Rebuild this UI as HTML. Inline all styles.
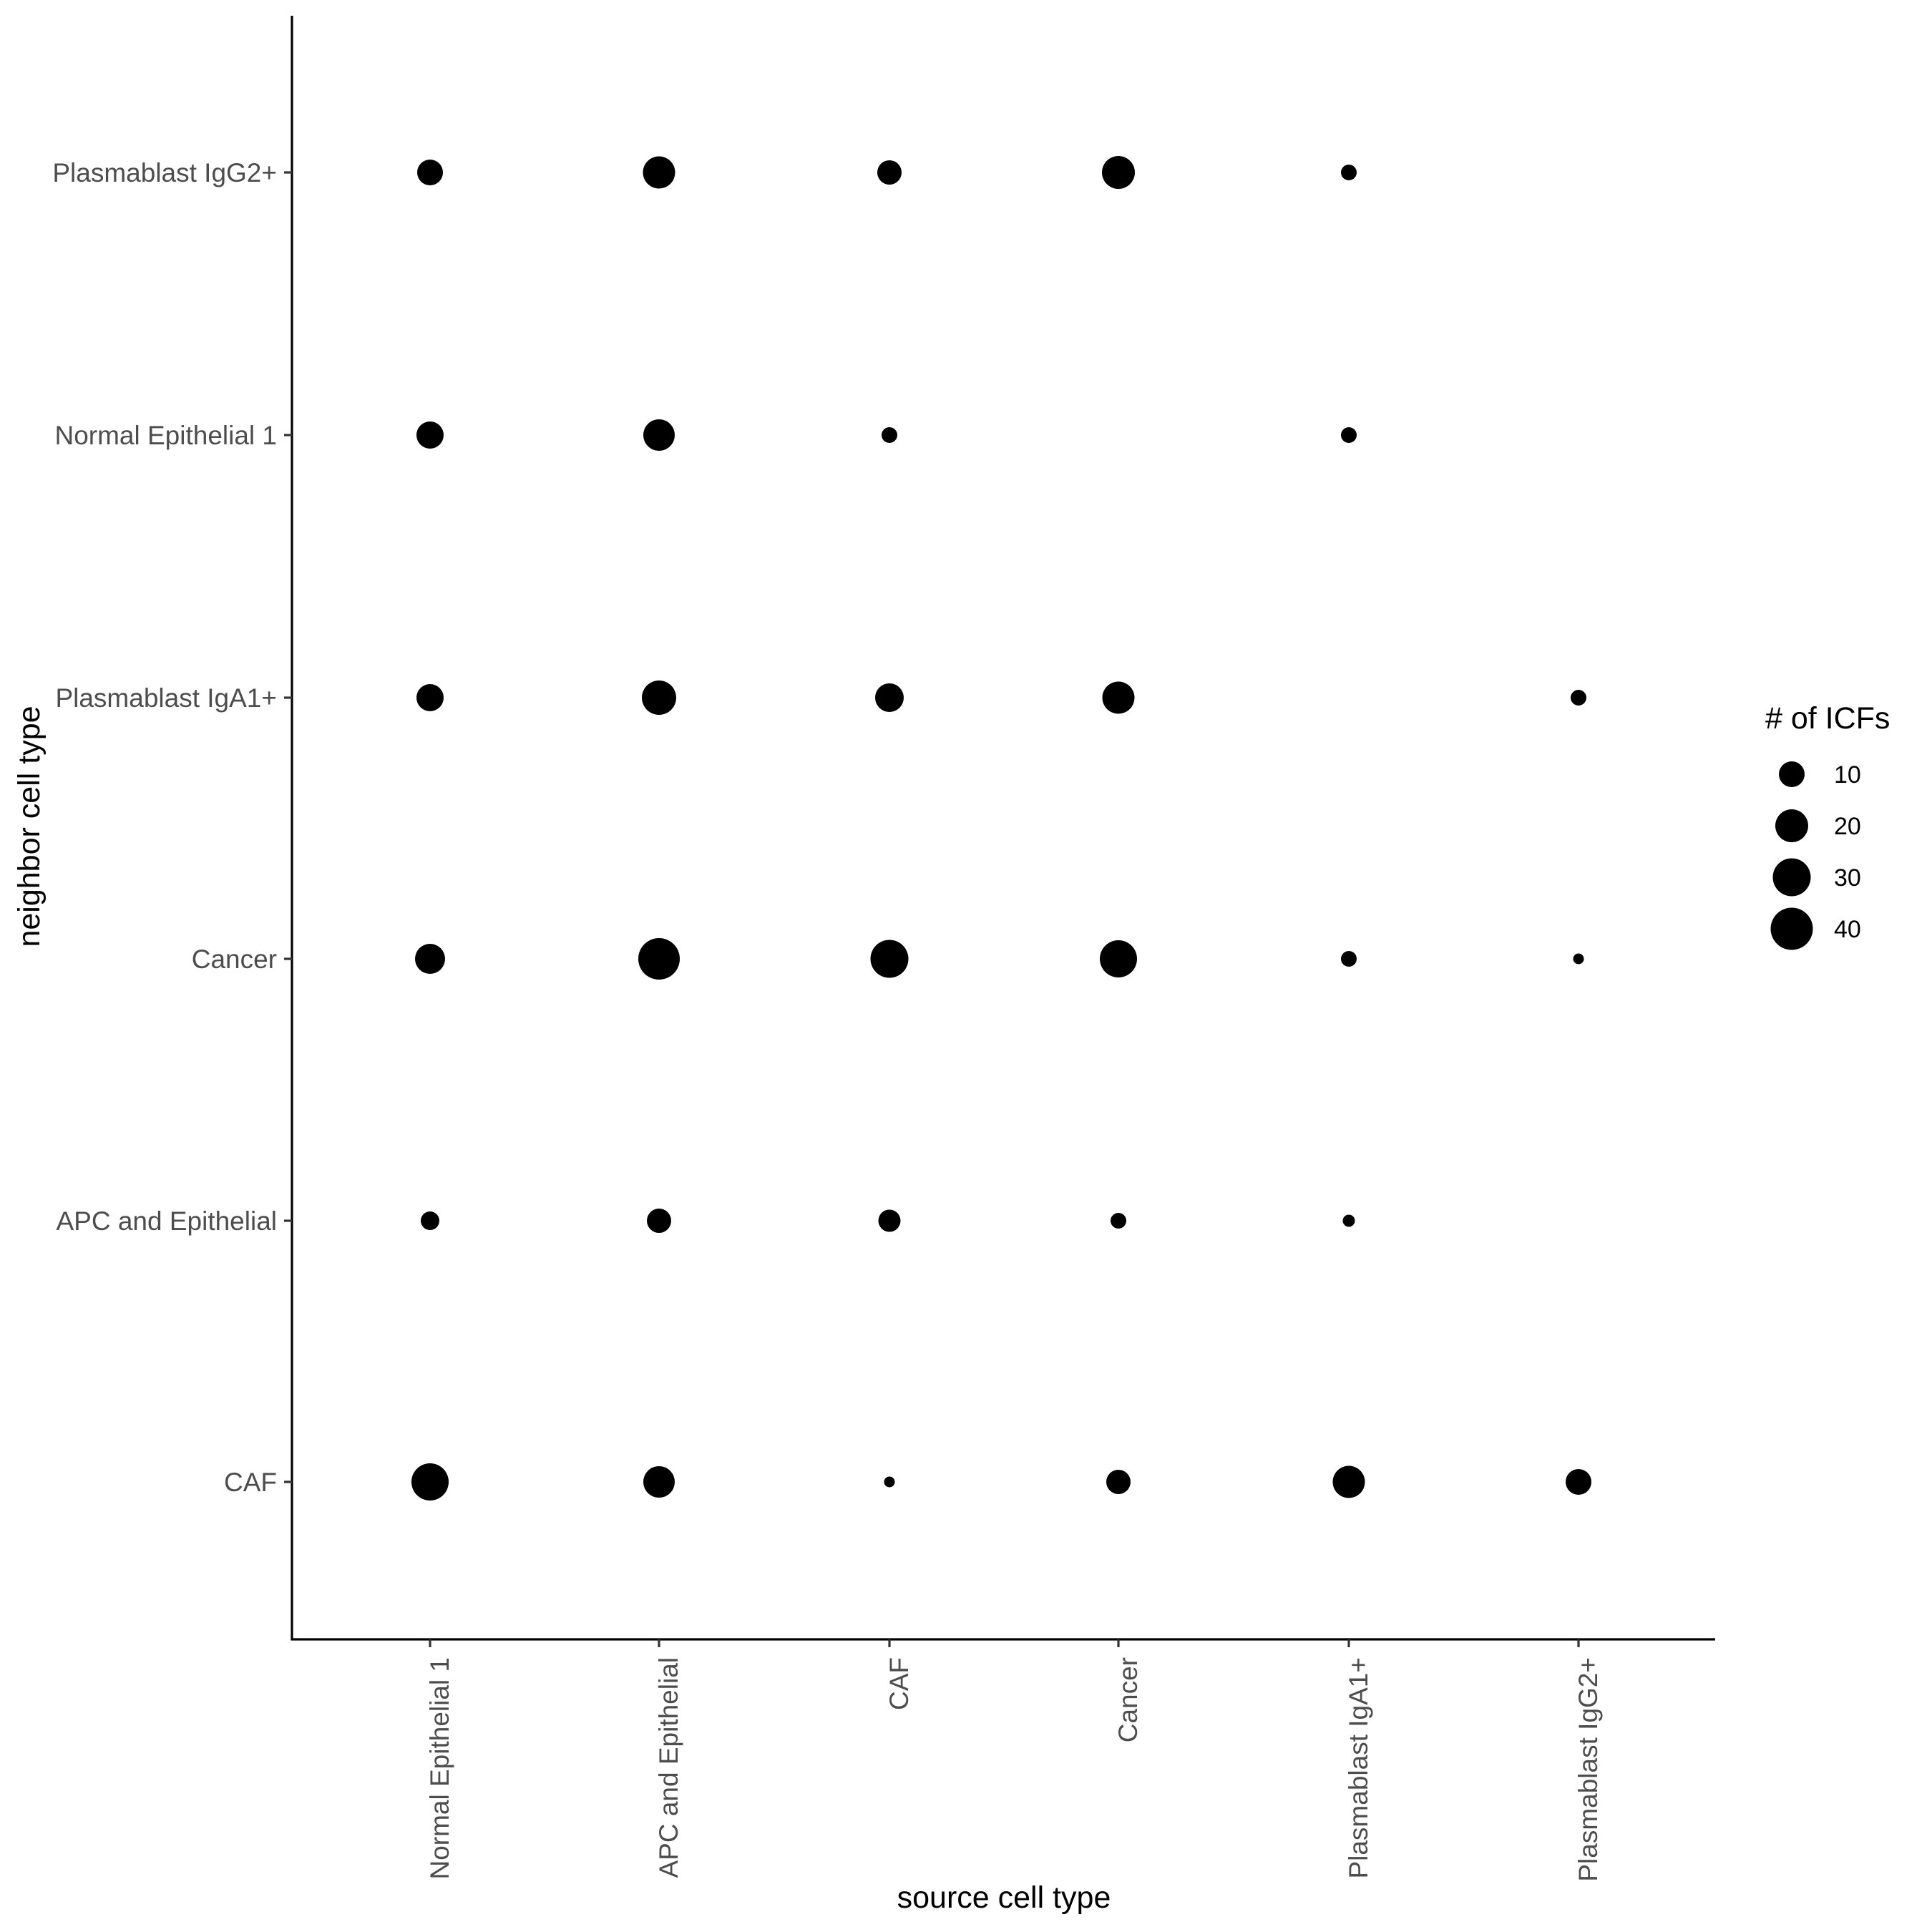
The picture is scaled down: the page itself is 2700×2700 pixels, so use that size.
<!DOCTYPE html>
<html><head><style>html,body{margin:0;padding:0;background:#fff}svg{display:block}</style></head>
<body>
<svg width="2700" height="2700" viewBox="0 0 2700 2700" xmlns="http://www.w3.org/2000/svg" font-family="Liberation Sans, Arial, sans-serif">
<rect width="2700" height="2700" fill="#fff"/>
<line x1="408" y1="22" x2="408" y2="2292" stroke="#000" stroke-width="3.2"/>
<line x1="406.5" y1="2291" x2="2397" y2="2291" stroke="#000" stroke-width="3.2"/>
<g stroke="#333" stroke-width="3.2">
<line x1="397" y1="241" x2="408" y2="241"/><line x1="397" y1="608" x2="408" y2="608"/>
<line x1="397" y1="975" x2="408" y2="975"/><line x1="397" y1="1340" x2="408" y2="1340"/>
<line x1="397" y1="1706" x2="408" y2="1706"/><line x1="397" y1="2071" x2="408" y2="2071"/>
<line x1="601" y1="2291" x2="601" y2="2302"/><line x1="921" y1="2291" x2="921" y2="2302"/>
<line x1="1243" y1="2291" x2="1243" y2="2302"/><line x1="1563" y1="2291" x2="1563" y2="2302"/>
<line x1="1885" y1="2291" x2="1885" y2="2302"/><line x1="2206" y1="2291" x2="2206" y2="2302"/>
</g>
<g fill="#4d4d4d" font-size="37" text-anchor="end">
<text x="387" y="254">Plasmablast IgG2+</text>
<text x="387" y="621">Normal Epithelial 1</text>
<text x="387" y="988">Plasmablast IgA1+</text>
<text x="387" y="1353">Cancer</text>
<text x="387" y="1719">APC and Epithelial</text>
<text x="387" y="2084">CAF</text>
</g>
<g fill="#4d4d4d" font-size="37" text-anchor="end">
<text transform="translate(627,2316) rotate(-90)">Normal Epithelial 1</text>
<text transform="translate(947,2316) rotate(-90)">APC and Epithelial</text>
<text transform="translate(1269,2316) rotate(-90)">CAF</text>
<text transform="translate(1589,2316) rotate(-90)">Cancer</text>
<text transform="translate(1911,2316) rotate(-90)">Plasmablast IgA1+</text>
<text transform="translate(2232,2316) rotate(-90)">Plasmablast IgG2+</text>
</g>
<text x="1403" y="2666" font-size="43" text-anchor="middle" fill="#000">source cell type</text>
<text transform="translate(55,1155) rotate(-90)" font-size="43" text-anchor="middle" fill="#000">neighbor cell type</text>
<g fill="#000">
<circle cx="601" cy="241" r="18"/><circle cx="921" cy="241" r="22.5"/><circle cx="1243" cy="241" r="17"/><circle cx="1563" cy="241" r="23"/><circle cx="1885" cy="241" r="11"/>
<circle cx="601" cy="608" r="19"/><circle cx="921" cy="608" r="22"/><circle cx="1243" cy="608" r="11"/><circle cx="1885" cy="608" r="11"/>
<circle cx="601" cy="975" r="19"/><circle cx="921" cy="975" r="24"/><circle cx="1243" cy="975" r="20"/><circle cx="1563" cy="975" r="22.5"/><circle cx="2206" cy="975" r="11"/>
<circle cx="601" cy="1340" r="21"/><circle cx="921" cy="1340" r="29"/><circle cx="1243" cy="1340" r="26.5"/><circle cx="1563" cy="1340" r="26"/><circle cx="1885" cy="1340" r="11"/><circle cx="2206" cy="1340" r="7.5"/>
<circle cx="601" cy="1706" r="13"/><circle cx="921" cy="1706" r="17"/><circle cx="1243" cy="1706" r="15.5"/><circle cx="1563" cy="1706" r="11"/><circle cx="1885" cy="1706" r="8.5"/>
<circle cx="601" cy="2071" r="26"/><circle cx="921" cy="2071" r="22"/><circle cx="1243" cy="2071" r="7.5"/><circle cx="1563" cy="2071" r="17"/><circle cx="1885" cy="2071" r="22.5"/><circle cx="2206" cy="2071" r="18"/>
</g>
<text x="2467" y="1018" font-size="43" fill="#000">#&#160;of ICFs</text>
<g fill="#000">
<circle cx="2504" cy="1082" r="18"/><circle cx="2504" cy="1154" r="23"/><circle cx="2504" cy="1226" r="26.5"/><circle cx="2504" cy="1298" r="29.5"/>
</g>
<g font-size="34" fill="#000">
<text x="2563" y="1094">10</text><text x="2563" y="1166">20</text><text x="2563" y="1238">30</text><text x="2563" y="1310">40</text>
</g>
</svg>
</body></html>
